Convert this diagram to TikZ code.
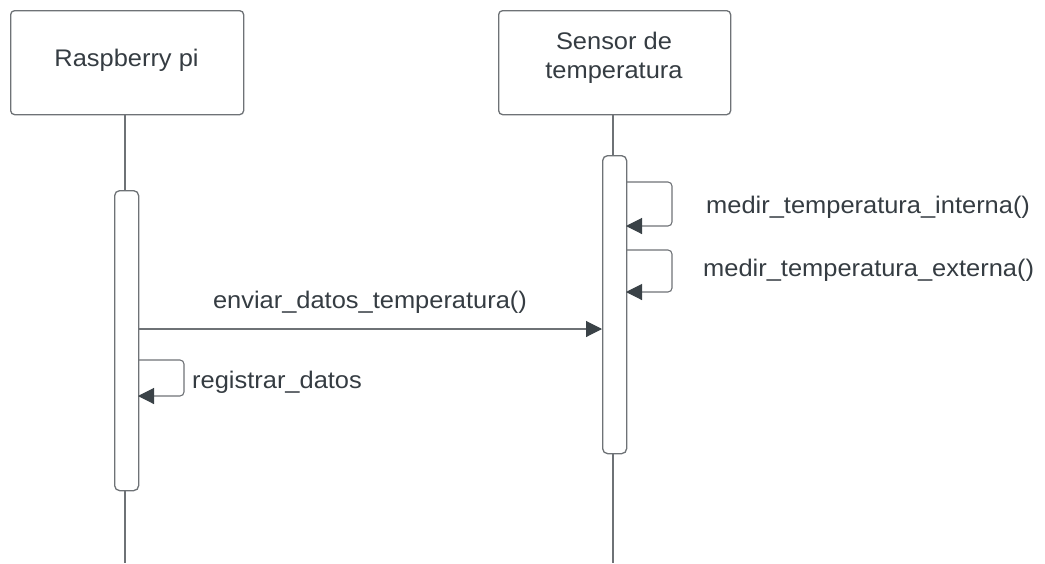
\documentclass[tikz,border=0pt]{standalone}
\usepackage{fontspec}
\setmainfont[FakeStretch=1.06]{Liberation Sans}
\usetikzlibrary{arrows.meta}
\definecolor{txt}{HTML}{353C42}
\definecolor{ln}{HTML}{6E7276}
\definecolor{tip}{HTML}{3A4247}
\tikzset{
  actor/.style={draw=ln, line width=1.3pt, rounded corners=4pt, fill=white},
  lifeline/.style={draw=ln, line width=1.1pt},
  activ/.style={draw=ln, line width=1.3pt, rounded corners=5pt, fill=white},
  msg/.style={draw=ln, line width=1.1pt, -{Triangle[length=16pt,width=16pt,fill=tip,color=tip]}},
  selfmsg/.style={draw=ln, line width=1.1pt, rounded corners=4pt, -{Triangle[length=16pt,width=16pt,fill=tip,color=tip]}},
  lbl/.style={text=txt, font=\fontsize{24}{29}\selectfont, inner sep=0pt, align=center},
}
\begin{document}
\begin{tikzpicture}[x=1pt,y=-1pt]
\useasboundingbox (0,0) rectangle (1045,563);
% lifelines
\coordinate (l1top) at (125,114);
\coordinate (l1bot) at (125,563);
\coordinate (l2top) at (613,114);
\coordinate (l2bot) at (613,563);
\draw[lifeline] (l1top) -- (l1bot);
\draw[lifeline] (l2top) -- (l2bot);
% actors
\node[actor, minimum width=233pt, minimum height=104pt, anchor=north west] (rpi) at (10,10) {};
\node[lbl] (rpilbl) at (126.5,60) {Raspberry pi};
\node[actor, minimum width=232pt, minimum height=104pt, anchor=north west] (sens) at (498,10) {};
\node[lbl] (senslbl) at (614,58) {Sensor de\\temperatura};
% activations
\node[activ, minimum width=24pt, minimum height=300pt, anchor=north west] (act1) at (114,190) {};
\node[activ, minimum width=24pt, minimum height=298pt, anchor=north west] (act2) at (602,155) {};
% self messages on sensor
\coordinate (s1a) at (626,182);
\coordinate (s1b) at (626,226);
\draw[selfmsg] (s1a) -- (672,182) -- (672,226) -- (s1b);
\node[lbl, anchor=west] (m1) at (706,207) {medir\_temperatura\_interna()};
\coordinate (s2a) at (626,250);
\coordinate (s2b) at (626,292);
\draw[selfmsg] (s2a) -- (672,250) -- (672,292) -- (s2b);
\node[lbl, anchor=west] (m2) at (703,270) {medir\_temperatura\_externa()};
% message
\coordinate (msa) at (138,329);
\coordinate (msb) at (602,329);
\draw[msg] (msa) -- (msb);
\node[lbl] (m3) at (370,302) {enviar\_datos\_temperatura()};
% self message on raspberry
\coordinate (r1a) at (138,360);
\coordinate (r1b) at (138,396);
\draw[selfmsg] (r1a) -- (184,360) -- (184,396) -- (r1b);
\node[lbl, anchor=west] (m4) at (192,382) {registrar\_datos};
\end{tikzpicture}
\end{document}
